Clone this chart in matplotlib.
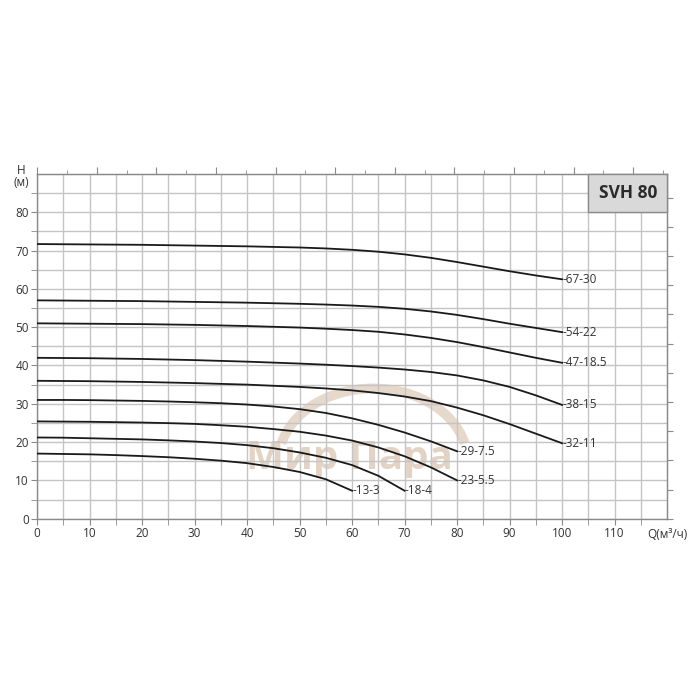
import matplotlib.pyplot as plt
from matplotlib.patches import Arc, Rectangle

plt.rcParams['font.family'] = ['Open Sans', 'DejaVu Sans']

# pump curves SVH 80, Q in m3/h, H in m (read every 5 m3/h)
q_100 = [0, 5, 10, 15, 20, 25, 30, 35, 40, 45, 50, 55, 60, 65, 70, 75, 80, 85, 90, 95, 100]
h_67_30 = [71.7, 71.65, 71.6, 71.55, 71.5, 71.4, 71.3, 71.2, 71.1, 70.95, 70.8,
           70.55, 70.2, 69.7, 69.0, 68.1, 67.0, 65.8, 64.6, 63.5, 62.5]
h_54_22 = [57.0, 56.95, 56.9, 56.85, 56.8, 56.7, 56.6, 56.5, 56.4, 56.25, 56.1,
           55.9, 55.65, 55.3, 54.8, 54.1, 53.2, 52.1, 50.9, 49.8, 48.7]
h_47_18 = [51.0, 50.95, 50.9, 50.85, 50.8, 50.7, 50.6, 50.45, 50.3, 50.1, 49.9,
           49.6, 49.25, 48.8, 48.1, 47.2, 46.1, 44.8, 43.4, 42.0, 40.7]
h_38_15 = [42.0, 41.95, 41.9, 41.8, 41.7, 41.55, 41.4, 41.2, 41.0, 40.75, 40.5,
           40.2, 39.85, 39.45, 38.95, 38.3, 37.4, 36.1, 34.4, 32.2, 29.7]
h_32_11 = [36.0, 35.95, 35.9, 35.8, 35.7, 35.55, 35.4, 35.2, 35.0, 34.7, 34.4,
           34.0, 33.5, 32.8, 31.9, 30.7, 29.0, 27.0, 24.7, 22.2, 19.7]

q_80 = [0, 5, 10, 15, 20, 25, 30, 35, 40, 45, 50, 55, 60, 65, 70, 75, 80]
h_29_7 = [31.0, 31.0, 30.95, 30.85, 30.75, 30.6, 30.4, 30.15, 29.8, 29.3, 28.6,
          27.6, 26.2, 24.5, 22.5, 20.2, 17.6]
h_23_5 = [25.4, 25.35, 25.3, 25.2, 25.1, 24.95, 24.75, 24.4, 24.0, 23.4, 22.7,
          21.7, 20.4, 18.6, 16.3, 13.4, 10.0]

q_70 = [0, 5, 10, 15, 20, 25, 30, 35, 40, 45, 50, 55, 60, 65, 70]
h_18_4 = [21.2, 21.15, 21.0, 20.85, 20.7, 20.45, 20.15, 19.75, 19.2, 18.4, 17.3,
          15.9, 14.0, 11.2, 7.3]

q_60 = [0, 5, 10, 15, 20, 25, 30, 35, 40, 45, 50, 55, 60]
h_13_3 = [17.0, 16.9, 16.8, 16.6, 16.35, 16.05, 15.65, 15.15, 14.5, 13.5, 12.2, 10.3, 7.3]

curves = [
    ("67-30", q_100, h_67_30),
    ("54-22", q_100, h_54_22),
    ("47-18.5", q_100, h_47_18),
    ("38-15", q_100, h_38_15),
    ("32-11", q_100, h_32_11),
    ("29-7.5", q_80, h_29_7),
    ("23-5.5", q_80, h_23_5),
    ("18-4", q_70, h_18_4),
    ("13-3", q_60, h_13_3),
]

x_ticks = list(range(0, 111, 10))
y_ticks = list(range(0, 81, 10))

txt = "#333333"
grid_c = "#c4c4c4"
spine_c = "#8a8a8a"

fig = plt.figure(figsize=(7, 7), dpi=100)
ax = fig.add_axes([0.053, 0.259, 0.9, 0.4925])

# watermark
ax.add_patch(Arc((64, 15), 36, 38, theta1=15, theta2=165, color="#c9a98c",
                 alpha=0.45, lw=7, zorder=1))
ax.text(59.5, 15.6, "Мир Пара", fontsize=29, fontweight="bold", color="#c9a98c",
        alpha=0.5, ha="center", va="center", zorder=1)

for name, q, h in curves:
    ax.plot(q, h, color="#1a1a1a", lw=1.3, zorder=3, solid_joinstyle="round")
    ax.text(q[-1], h[-1], "-" + name, fontsize=8.5, color=txt, ha="left",
            va="center", zorder=4)

ax.set_xlim(0, 120)
ax.set_ylim(0, 90)
ax.set_xticks(x_ticks)
ax.set_yticks(y_ticks)
ax.set_xticks(range(5, 120, 5), minor=True)
ax.set_yticks(range(5, 90, 5), minor=True)
ax.grid(True, which="both", color=grid_c, lw=1, zorder=0)
ax.tick_params(which="both", direction="out", length=4, color=spine_c,
               labelsize=8.5, labelcolor=txt, pad=2)
for s in ax.spines.values():
    s.set_color(spine_c)
    s.set_linewidth(1)

ax.text(120, -2.3, "Q(м³/ч)", fontsize=8.5, color=txt, ha="center", va="top")
ax.text(-0.025, 1.01, "H", transform=ax.transAxes, fontsize=8.5, color=txt,
        ha="center", va="center")
ax.text(-0.025, 0.975, "(м)", transform=ax.transAxes, fontsize=8.5, color=txt,
        ha="center", va="center")

# secondary scales (US gpm on top, ft on right), ticks only
top = ax.secondary_xaxis("top", functions=(lambda x: x * 4.4029, lambda x: x / 4.4029))
top.set_xticks(range(0, 530, 50))
top.set_xticks(range(25, 530, 50), minor=True)
top.tick_params(which="major", length=5, color=spine_c, labeltop=False)
top.tick_params(which="minor", length=3, color=spine_c)
top.spines["top"].set_color(spine_c)
right = ax.secondary_yaxis("right", functions=(lambda y: y * 3.28084, lambda y: y / 3.28084))
right.set_yticks(range(0, 296, 25))
right.tick_params(length=4, color=spine_c, labelright=False)
right.spines["right"].set_color(spine_c)

# model box
ax.add_patch(Rectangle((105, 80), 15, 10, facecolor="#d9d9d9", edgecolor=spine_c,
                       lw=1, zorder=5, clip_on=False))
ax.text(112.5, 85, "SVH 80", fontsize=12.5, fontweight="bold", color="#2a2a2a",
        ha="center", va="center", zorder=6)

fig.savefig("out.png", dpi=100)
